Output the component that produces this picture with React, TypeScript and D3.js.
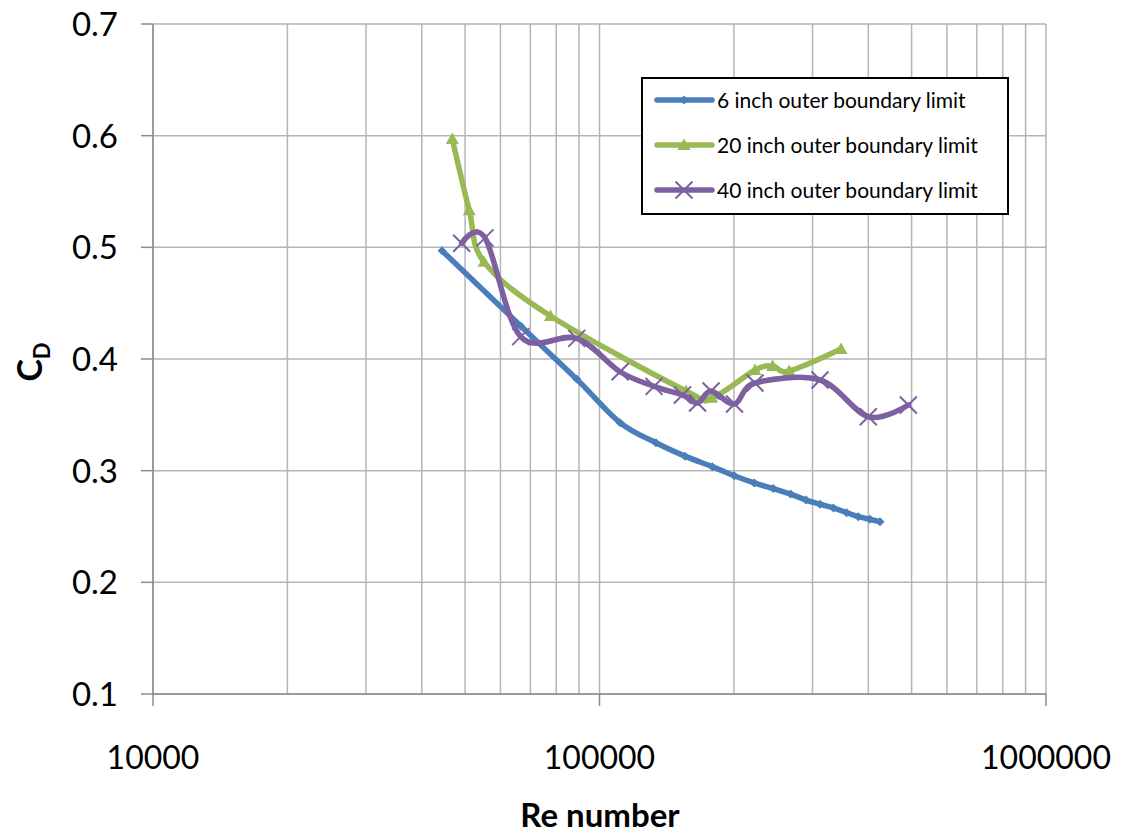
import React from "react";
import * as d3 from "d3";

const blueRe = [44400, 66700, 88900, 111200, 133800, 155400, 178900, 200400, 222200, 244900, 267900, 290200, 311800, 334000, 357700, 379900, 403500, 424900];
const blueCd = [0.497, 0.4293, 0.382, 0.343, 0.325, 0.313, 0.3036, 0.2955, 0.289, 0.284, 0.279, 0.2737, 0.270, 0.2666, 0.2624, 0.2588, 0.2564, 0.2543];

const greenRe = [46800, 51100, 55100, 77650, 156200, 178300, 223000, 244200, 265700, 347500];
const greenCd = [0.597, 0.533, 0.487, 0.4385, 0.3713, 0.3651, 0.3901, 0.3937, 0.3892, 0.4089];

const purpleRe = [49130, 55400, 66600, 88900, 111200, 132500, 153400, 165800, 177800, 200600, 223000, 311800, 400000, 491700];
const purpleCd = [0.5036, 0.5085, 0.420, 0.4185, 0.3886, 0.3755, 0.3678, 0.3606, 0.3713, 0.3597, 0.3785, 0.3812, 0.3483, 0.3588];

const seriesNames = ["6 inch outer boundary limit", "20 inch outer boundary limit", "40 inch outer boundary limit"];
const yTicks = [0.1, 0.2, 0.3, 0.4, 0.5, 0.6, 0.7];
const xMajor = [10000, 100000, 1000000];

const FONT = "Lato, 'Open Sans', sans-serif";
const BLUE = "#4a7ebb";
const GREEN = "#98b954";
const PURPLE = "#7d60a0";

const L = 153, R = 1046, T = 24, B = 694;

function Marker({ kind, x, y, color }: { kind: string; x: number; y: number; color: string }) {
  if (kind === "diamond") {
    const s = 4.5;
    return <path d={`M${x},${y - s}L${x + s},${y}L${x},${y + s}L${x - s},${y}Z`} fill={color} />;
  }
  if (kind === "triangle") {
    const s = 6.5;
    return <path d={`M${x},${y - s}L${x + s},${y + s * 0.75}L${x - s},${y + s * 0.75}Z`} fill={color} />;
  }
  const s = 8.5;
  return (
    <path d={`M${x - s},${y - s}L${x + s},${y + s}M${x - s},${y + s}L${x + s},${y - s}`} stroke={color} strokeWidth={2} fill="none" />
  );
}

export default function App() {
  const x = d3.scaleLog().domain([10000, 1000000]).range([L, R]);
  const y = d3.scaleLinear().domain([0.1, 0.7]).range([B, T]);

  const minor: number[] = [];
  [10000, 100000].forEach((d) => {
    for (let k = 2; k <= 9; k++) minor.push(d * k);
  });

  const line = d3
    .line<[number, number]>()
    .x((d) => x(d[0]))
    .y((d) => y(d[1]))
    .curve(d3.curveCardinal.tension(0));

  const series = [
    { re: blueRe, cd: blueCd, color: BLUE, kind: "diamond" },
    { re: greenRe, cd: greenCd, color: GREEN, kind: "triangle" },
    { re: purpleRe, cd: purpleCd, color: PURPLE, kind: "x" },
  ];

  const grid = "#b5b5b5";

  return (
    <svg width={1125} height={835} style={{ position: "absolute", left: 0, top: 0, background: "#fff" }}>
      {yTicks.map((t) => (
        <line key={"h" + t} x1={L} x2={R} y1={y(t)} y2={y(t)} stroke={grid} strokeWidth={1.5} />
      ))}
      {minor.concat(xMajor).map((t) => (
        <line key={"v" + t} x1={x(t)} x2={x(t)} y1={T} y2={B} stroke={grid} strokeWidth={1.5} />
      ))}
      <line x1={L} x2={L} y1={T} y2={B} stroke="#8c8c8c" strokeWidth={1.5} />
      <line x1={L} x2={R} y1={B} y2={B} stroke="#8c8c8c" strokeWidth={1.5} />
      {yTicks.map((t) => (
        <line key={"yt" + t} x1={L - 12} x2={L} y1={y(t)} y2={y(t)} stroke="#8c8c8c" strokeWidth={1.5} />
      ))}
      {xMajor.map((t) => (
        <line key={"xt" + t} x1={x(t)} x2={x(t)} y1={B} y2={B + 12} stroke="#8c8c8c" strokeWidth={1.5} />
      ))}
      {yTicks.map((t) => (
        <text key={"yl" + t} x={118} y={y(t)} dy="0.36em" textAnchor="end" fontFamily={FONT} fontSize={33} fill="#000">
          {d3.format(".1f")(t)}
        </text>
      ))}
      {xMajor.map((t) => (
        <text key={"xl" + t} x={x(t)} y={769} textAnchor="middle" fontFamily={FONT} fontSize={32} fill="#000">
          {String(t)}
        </text>
      ))}
      <text x={600} y={827} textAnchor="middle" fontFamily={FONT} fontSize={33} fontWeight="bold" fill="#000">
        Re number
      </text>
      <text transform="translate(42,362) rotate(-90)" textAnchor="middle" fontFamily={FONT} fontSize={34} fontWeight="bold" fill="#000">
        C<tspan fontSize={22} dy={8}>D</tspan>
      </text>
      {series.map((s, i) => {
        const pts: [number, number][] = s.re.map((r, j) => [r, s.cd[j]]);
        return (
          <g key={"s" + i}>
            <path d={line(pts) || ""} fill="none" stroke={s.color} strokeWidth={5.5} strokeLinejoin="round" strokeLinecap="round" />
            {pts.map((p, j) => (
              <Marker key={j} kind={s.kind} x={x(p[0])} y={y(p[1])} color={s.color} />
            ))}
          </g>
        );
      })}
      <rect x={642} y={78} width={366} height={136} fill="#fff" stroke="#000" strokeWidth={2} />
      {series.map((s, i) => {
        const ly = 100 + i * 45;
        return (
          <g key={"lg" + i}>
            <line x1={657} x2={712} y1={ly} y2={ly} stroke={s.color} strokeWidth={5.5} strokeLinecap="round" />
            <Marker kind={s.kind} x={684} y={ly} color={s.color} />
            <text x={717} y={ly} dy="0.36em" fontFamily={FONT} fontSize={21} fill="#000">
              {seriesNames[i]}
            </text>
          </g>
        );
      })}
    </svg>
  );
}
